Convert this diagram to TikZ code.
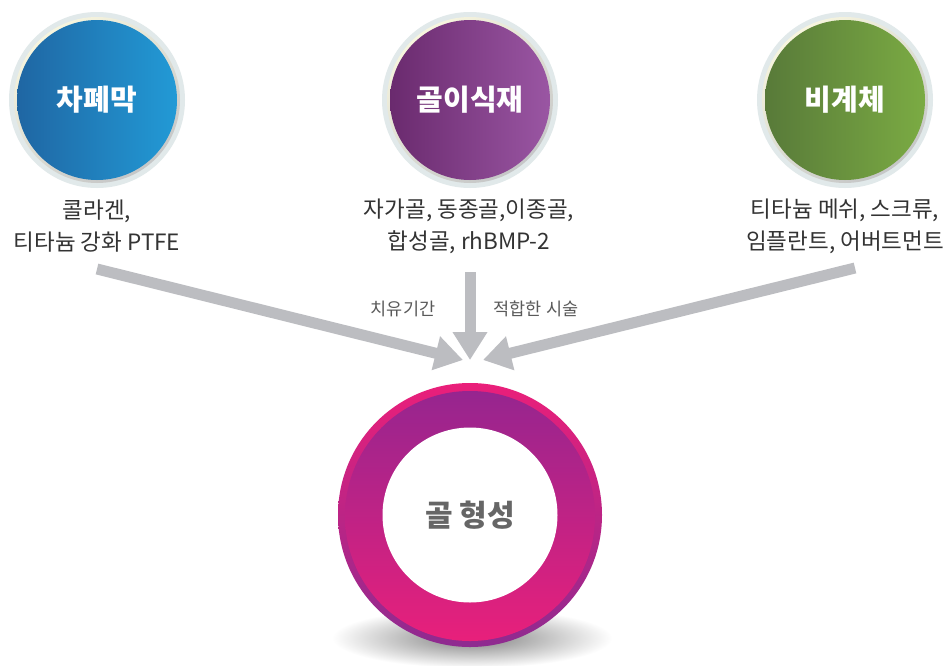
\documentclass[tikz,border=0pt]{standalone}
\usepackage{fontspec}
\setmainfont{Noto Sans CJK KR}
\usetikzlibrary{arrows.meta}
\definecolor{blueL}{HTML}{1F66A3}
\definecolor{blueR}{HTML}{229AD6}
\definecolor{purL}{HTML}{6A2A6E}
\definecolor{purR}{HTML}{9A56A3}
\definecolor{grnL}{HTML}{587A39}
\definecolor{grnR}{HTML}{7BAB43}
\definecolor{haloOut}{HTML}{E1E9EA}
\definecolor{haloL}{HTML}{F7F5DE}
\definecolor{haloD}{HTML}{C5C6C7}
\definecolor{arrgray}{HTML}{BCBDC1}
\definecolor{txt}{HTML}{333333}
\definecolor{subtxt}{HTML}{5A5A5A}
\definecolor{rimpink}{HTML}{EA1F7A}
\definecolor{rimpur}{HTML}{8E2A90}
\definecolor{ringtop}{HTML}{96258F}
\definecolor{ringbot}{HTML}{E8207B}
\definecolor{coretxt}{HTML}{666666}
\begin{document}
\begin{tikzpicture}[x=1pt,y=-1pt,
  halo/.style={circle, minimum size=176pt, inner sep=0pt, fill=haloOut},
  halomid/.style={circle, minimum size=166pt, inner sep=0pt, top color=haloL, bottom color=haloD, shading angle=35},
  ball/.style={circle, minimum size=160pt, inner sep=0pt, text=white, font=\fontsize{29}{30}\selectfont\bfseries},
  lbl/.style={align=center, text=txt, inner sep=0pt, font=\fontsize{22.5}{32}\selectfont},
  sublbl/.style={text=subtxt, inner sep=0pt, font=\fontsize{17.5}{20}\selectfont},
  arr/.style={draw=arrgray, line width=11pt, -{Triangle[width=33pt,length=28pt]}}
]
\useasboundingbox (0,0) rectangle (948,665);
\fill[white] (0,0) rectangle (948,665);

% top circles
\node[halo] (h1) at (97,100) {};
\node[halomid] (m1) at (97,100) {};
\node[ball, left color=blueL, right color=blueR] (b1) at (97,100) {차폐막};
\node[halo] (h2) at (470,100) {};
\node[halomid] (m2) at (470,100) {};
\node[ball, left color=purL, right color=purR] (b2) at (470,100) {골이식재};
\node[halo] (h3) at (845,100) {};
\node[halomid] (m3) at (845,100) {};
\node[ball, left color=grnL, right color=grnR] (b3) at (845,100) {비계체};

% labels
\node[lbl] (t1) at (97,226) {콜라겐,\\티타늄 강화 PTFE};
\node[lbl] (t2) at (469,226) {자가골, 동종골,이종골,\\합성골, rhBMP-2};
\node[lbl] (t3) at (845,226) {티타늄 메쉬, 스크류,\\임플란트, 어버트먼트};

% arrows
\coordinate (s1) at (97,269);
\coordinate (e1) at (463,360);
\coordinate (s2) at (470,272);
\coordinate (e2) at (470,360);
\coordinate (s3) at (855,268);
\coordinate (e3) at (483,360);
\draw[arr] (s1) -- (e1);
\draw[arr] (s2) -- (e2);
\draw[arr] (s3) -- (e3);
\node[sublbl] (c1) at (403,309) {치유기간};
\node[sublbl] (c2) at (536,309) {적합한 시술};

% shadow
\shade[inner color=black!50, outer color=white] (472,638) ellipse (140 and 30);

% bone formation ring
\node[circle, minimum size=264pt, inner sep=0pt, top color=rimpink, bottom color=rimpur] (ring) at (470,515) {};
\node[circle, minimum size=250pt, inner sep=0pt, top color=ringtop, bottom color=ringbot] (ringin) at (470,516) {};
\node[circle, minimum size=175pt, inner sep=0pt, fill=white, text=coretxt, font=\fontsize{30}{32}\selectfont\bfseries] (core) at (470,515) {골 형성};
\end{tikzpicture}
\end{document}
